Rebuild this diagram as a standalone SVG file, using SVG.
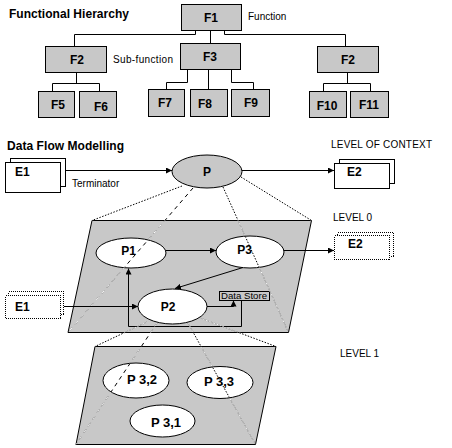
<svg xmlns="http://www.w3.org/2000/svg" width="452" height="448" viewBox="0 0 452 448">
<style>
.box{fill:#c8c8c8;stroke:#000;stroke-width:1}
.wbox{fill:#fff;stroke:#000;stroke-width:1}
.dbox{fill:#fff;stroke:#000;stroke-width:1;stroke-dasharray:1,1;shape-rendering:crispEdges}
.ell{fill:#fff;stroke:#000;stroke-width:1}
.lbl{font-family:"Liberation Sans",Arial,sans-serif;font-weight:bold;font-size:12px;text-anchor:middle;fill:#000}
.lbl13{font-family:"Liberation Sans",Arial,sans-serif;font-weight:bold;font-size:13px;text-anchor:middle;fill:#000}
.ttl{font-family:"Liberation Sans",Arial,sans-serif;font-weight:bold;font-size:12px;fill:#000}
.note{font-family:"Liberation Sans",Arial,sans-serif;font-size:10px;fill:#000}
.conn{stroke:#000;fill:none;stroke-width:1}
.dotk{stroke:#000;fill:none;stroke-width:1;stroke-dasharray:1.5,1.5}
.dashk{stroke:#000;fill:none;stroke-width:1;stroke-dasharray:4,4}
.dotw{stroke:#fff;fill:none;stroke-width:1;stroke-dasharray:1.5,1.5}
.dashw{stroke:#fff;fill:none;stroke-width:1;stroke-dasharray:4,4}
</style>
<defs>
<marker id="ah" markerWidth="6" markerHeight="6" refX="6" refY="3" orient="auto" markerUnits="userSpaceOnUse">
<path d="M0,0 L6,3 L0,6 z" fill="#000"/>
</marker>
<clipPath id="gray">
<path clip-rule="evenodd" d="M92,220.5 L311.5,220.5 L288.5,332.5 L68,332.5 Z M95,346.5 L276,346.5 L255.5,444.5 L76,444.5 Z M96,253 a35,15 0 1,0 70,0 a35,15 0 1,0 -70,0 Z M216,252 a34,16 0 1,0 68,0 a34,16 0 1,0 -68,0 Z M138,306.5 a34.5,17.5 0 1,0 69,0 a34.5,17.5 0 1,0 -69,0 Z M103,380.5 a33,17.5 0 1,0 66,0 a33,17.5 0 1,0 -66,0 Z M187,382.5 a33,16 0 1,0 66,0 a33,16 0 1,0 -66,0 Z M130,421 a32.5,16 0 1,0 65,0 a32.5,16 0 1,0 -65,0 Z"/>
</clipPath>
</defs>
<rect width="452" height="448" fill="#fff"/>

<text class="ttl" x="9" y="18" textLength="120" lengthAdjust="spacing">Functional Hierarchy</text>
<text class="note" x="248" y="20">Function</text>
<text class="note" x="113" y="63" textLength="60" lengthAdjust="spacing">Sub-function</text>

<g id="hier-connectors">
<path class="conn" d="M195.5,30.5 V34.5 H74.5 V46.5"/>
<path class="conn" d="M210.5,30.5 V43.5"/>
<path class="conn" d="M224.5,30.5 V34.5 H345.5 V46.5"/>
<path class="conn" d="M76.5,72.5 V83.5 M52.5,91.5 V83.5 H99.5 V91.5"/>
<path class="conn" d="M187.5,69.5 V82.5 H166.5 V89.5 M208.5,69.5 V89.5 M231.5,69.5 V82.5 H253.5 V89.5"/>
<path class="conn" d="M347.5,72.5 V83.5 M323.5,91.5 V83.5 H370.5 V91.5"/>
</g>

<g id="F1"><rect class="box" x="181.5" y="4.5" width="60" height="26"/><text class="lbl" x="211" y="22">F1</text></g>
<g id="F2a"><rect class="box" x="45.5" y="46.5" width="61" height="26"/><text class="lbl" x="77" y="64">F2</text></g>
<g id="F3"><rect class="box" x="180.5" y="43.5" width="60" height="26"/><text class="lbl" x="210" y="61">F3</text></g>
<g id="F2b"><rect class="box" x="317.5" y="46.5" width="61" height="26"/><text class="lbl" x="348" y="64">F2</text></g>
<g id="F5"><rect class="box" x="38.5" y="91.5" width="36" height="26"/><text class="lbl" x="58" y="109">F5</text></g>
<g id="F6"><rect class="box" x="79.5" y="91.5" width="37" height="26"/><text class="lbl" x="101" y="111">F6</text></g>
<g id="F7"><rect class="box" x="148.5" y="89.5" width="36" height="27"/><text class="lbl" x="165" y="107">F7</text></g>
<g id="F8"><rect class="box" x="190.5" y="89.5" width="37" height="27"/><text class="lbl" x="205" y="108">F8</text></g>
<g id="F9"><rect class="box" x="231.5" y="89.5" width="38" height="27"/><text class="lbl" x="251" y="107">F9</text></g>
<g id="F10"><rect class="box" x="309.5" y="91.5" width="37" height="26"/><text class="lbl" x="327" y="110">F10</text></g>
<g id="F11"><rect class="box" x="350.5" y="91.5" width="38" height="26"/><text class="lbl" x="369" y="109">F11</text></g>

<text class="ttl" x="7" y="150" textLength="117" lengthAdjust="spacing">Data Flow Modelling</text>
<text class="note" x="331" y="148" textLength="101" lengthAdjust="spacing">LEVEL OF CONTEXT</text>
<text class="note" x="72" y="187">Terminator</text>
<text class="note" x="333" y="221">LEVEL 0</text>
<text class="note" x="340" y="357">LEVEL 1</text>

<g id="level0-plane"><polygon class="box" points="92,220.5 311.5,220.5 288.5,332.5 68,332.5"/></g>
<g id="level1-plane"><polygon class="box" points="95,346.5 276,346.5 255.5,444.5 76,444.5"/></g>

<g id="E1-ctx"><rect class="wbox" x="10.5" y="158.5" width="55" height="28"/><rect class="wbox" x="5.5" y="162.5" width="55" height="30"/><text class="ttl" x="15" y="176">E1</text></g>
<g id="P"><ellipse class="box" cx="207" cy="171.5" rx="35" ry="16.5"/><text class="lbl" x="207" y="176">P</text></g>
<g id="E2-ctx"><rect class="wbox" x="339.5" y="159.5" width="55" height="24"/><rect class="wbox" x="334.5" y="163.5" width="55" height="25"/><text class="ttl" x="347" y="176">E2</text></g>

<g id="P1"><ellipse class="ell" cx="131" cy="253" rx="35" ry="15"/><text class="lbl" x="128.5" y="255">P1</text></g>
<g id="P3"><ellipse class="ell" cx="250" cy="252" rx="34" ry="16"/><text class="lbl" x="244.5" y="254">P3</text></g>
<g id="P2"><ellipse class="ell" cx="172.5" cy="306.5" rx="34.5" ry="17.5"/><text class="lbl" x="168" y="311">P2</text></g>
<g id="E2-l0"><rect class="dbox" x="337.5" y="232.5" width="56" height="24"/><rect class="dbox" x="334.5" y="235.5" width="55" height="24"/><text class="ttl" x="348" y="248">E2</text></g>
<g id="E1-l0"><rect class="dbox" x="8.5" y="291.5" width="55" height="23"/><rect class="dbox" x="5.5" y="295.5" width="55" height="23"/><text class="ttl" x="15" y="311">E1</text></g>
<g id="DataStore"><rect class="conn" x="219.5" y="291.5" width="50" height="9"/><text class="note" x="221" y="299" style="font-size:9px" textLength="46" lengthAdjust="spacingAndGlyphs">Data Store</text></g>

<g id="P32"><ellipse class="ell" cx="136" cy="380.5" rx="33" ry="17.5"/><text class="lbl13" x="142" y="384">P 3,2</text></g>
<g id="P33"><ellipse class="ell" cx="220" cy="382.5" rx="33" ry="16"/><text class="lbl13" x="219" y="386">P 3,3</text></g>
<g id="P31"><ellipse class="ell" cx="162.5" cy="421" rx="32.5" ry="16"/><text class="lbl13" x="166" y="427">P 3,1</text></g>

<g id="connectors">
<path class="conn" d="M66,170.5 H172" marker-end="url(#ah)"/>
<path class="conn" d="M242,170.5 H334" marker-end="url(#ah)"/>
<path class="conn" d="M166,250.5 H216" marker-end="url(#ah)"/>
<path class="conn" d="M284,250.5 H334" marker-end="url(#ah)"/>
<path class="conn" d="M243,267.5 L175,288.5" marker-end="url(#ah)"/>
<path class="conn" d="M64,306.5 H138" marker-end="url(#ah)"/>
<path class="conn" d="M207,306.5 H233.5 V300.5" marker-end="url(#ah)"/>
<path class="conn" d="M241.5,300.5 V326.5 H128.5 V268.5" marker-end="url(#ah)"/>
</g>

<g id="projections">
<path class="dotk" d="M182,186 L92,220.5 M223,187 L288.5,332.5 M241,177 L311.5,220.5 M147,322 L95,346.5 M188,323 L255.5,444.5 M200,318 L276,346.5"/>
<path class="dashk" d="M193,188 L68,332.5 M157,323 L76,444.5"/>
<g clip-path="url(#gray)">
<path class="dotw" d="M182,186 L92,220.5 M223,187 L288.5,332.5 M241,177 L311.5,220.5 M147,322 L95,346.5 M188,323 L255.5,444.5 M200,318 L276,346.5"/>
<path class="dashw" d="M193,188 L68,332.5 M157,323 L76,444.5"/>
</g>
</g>
</svg>
